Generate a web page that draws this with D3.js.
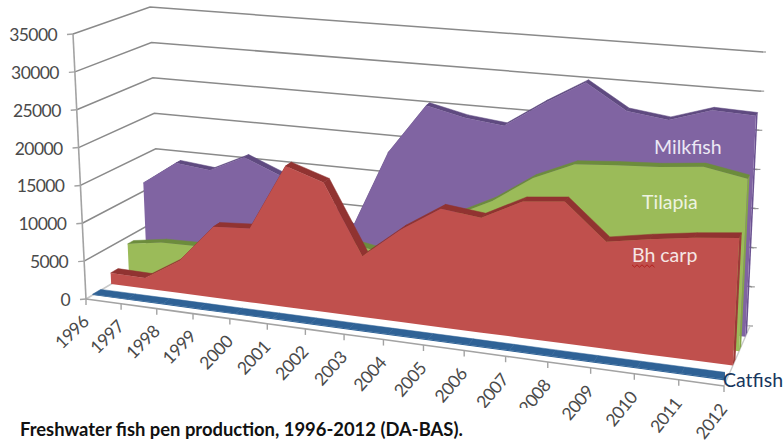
<!DOCTYPE html>
<html>
<head>
<meta charset="utf-8">
<script src="https://cdn.jsdelivr.net/npm/d3@7"></script>
<style>
    html, body { margin: 0; padding: 0; background: #fff; }
    svg { display: block; }
    text { font-family: Lato, "Noto Sans", sans-serif; }
</style>
</head>
<body>
<svg id="chart" width="783" height="446"></svg>
<script>
const years = ["1996","1997","1998","1999","2000","2001","2002","2003","2004","2005","2006","2007","2008","2009","2010","2011","2012"];
const valueTicks = [0, 5000, 10000, 15000, 20000, 25000, 30000, 35000];

// Production per species
const catfish = [110, 110, 120, 120, 120, 130, 130, 120, 120, 130, 130, 130, 120, 120, 130, 130, 130];
const bhCarp = [1500, 1420, 4280, 9420, 9760, 18500, 16880, 7880, 11900, 15140, 14560, 17200, 17750, 13300, 14230, 15000, 15600];
const tilapia = [4060, 4800, 4900, 6000, 7000, 8500, 8000, 7140, 11130, 12800, 15320, 18800, 21090, 21500, 21800, 22350, 21400];
const milkfish = [11150, 14400, 13900, 16170, 14200, 12000, 8000, 18800, 25500, 24340, 23760, 27200, 30300, 27080, 26400, 28100, 27900];

// Box corners on screen: front/back, left/right, floor/top of the value axis
const corners = {
    flb: [86, 299], frb: [724, 386], blb: [160, 255], brb: [750, 326],
    flt: [73, 34], frt: [739, 93], blt: [150, 7], brt: [763, 52]
};

const xScale = d3.scalePoint().domain(years).range([0, 1]);
const yScale = d3.scaleLinear().domain([0, 35000]).range([0, 1]);
const labelAngle = d3.scaleLinear().domain([0, 1]).range([-44, -52]);

const lerp = (a, b, t) => [a[0] + (b[0] - a[0]) * t, a[1] + (b[1] - a[1]) * t];

// Year spacing widens toward the viewer's right
const perspective = 1.145;
const warp = u => u / (u + perspective * (1 - u));

function project(year, value, depth) {
    const t = warp(xScale(year));
    const floor = lerp(lerp(corners.flb, corners.frb, t), lerp(corners.blb, corners.brb, t), depth);
    const top = lerp(lerp(corners.flt, corners.frt, t), lerp(corners.blt, corners.brt, t), depth);
    return lerp(floor, top, yScale(value));
}

const series = [
    { name: "Milkfish", values: milkfish, front: 0.82, back: 0.89, fill: "#8064a2", edge: "#5f4a80", side: "#6a5290" },
    { name: "Tilapia", values: tilapia, front: 0.58, back: 0.66, fill: "#9bbb59", edge: "#6c8c3c", side: "#84a548" },
    { name: "Bh carp", values: bhCarp, front: 0.34, back: 0.44, fill: "#c0504d", edge: "#913331", side: "#9c3b38" },
    { name: "Catfish", values: catfish, front: 0.09, back: 0.20, fill: "#2f6296", edge: "#2f6296", side: "#2f6296" }
];

const svg = d3.select("#chart");
const pathLine = d3.line().x(d => d[0]).y(d => d[1]);
const first = years[0], last = years[years.length - 1];

// The catfish strip stops where its label starts
svg.append("clipPath")
    .attr("id", "catfish-clip")
    .append("rect")
    .attr("x", 0)
    .attr("y", 0)
    .attr("width", 725)
    .attr("height", 446);

// Walls: gridlines run along the side wall and then the back wall
const wall = svg.append("g");
wall.selectAll("path")
    .data(valueTicks)
    .enter()
    .append("path")
    .attr("d", v => pathLine([project(first, v, 0), project(first, v, 1), project(last, v, 1)]))
    .attr("fill", "none")
    .attr("stroke", v => v === 0 ? "#c9c9c9" : "#8a8a8a")
    .attr("stroke-width", 1.5);

// Small ticks on the far right edge of the back wall
wall.selectAll("line.right-tick")
    .data(valueTicks)
    .enter()
    .append("line")
    .attr("class", "right-tick")
    .attr("x1", v => project(last, v, 1)[0] - 1)
    .attr("y1", v => project(last, v, 1)[1])
    .attr("x2", v => project(last, v, 1)[0] + 3)
    .attr("y2", v => project(last, v, 1)[1])
    .attr("stroke", "#9a9a9a")
    .attr("stroke-width", 1.2);

// Right floor edge
wall.append("path")
    .attr("d", pathLine([project(last, 0, 0), project(last, 0, 1)]))
    .attr("stroke", "#c9c9c9")
    .attr("stroke-width", 1.4);

// Area slabs, drawn from the back row to the front row
series.forEach(s => {
    const g = svg.append("g").attr("class", "slab");
    if (s.name === "Catfish") g.attr("clip-path", "url(#catfish-clip)");
    const rows = years.map((y, i) => ({ year: y, value: s.values[i] }));

    // right end of the slab
    const endValue = rows[rows.length - 1].value;
    g.append("path")
        .attr("d", pathLine([
            project(last, 0, s.front), project(last, 0, s.back),
            project(last, endValue, s.back), project(last, endValue, s.front)
        ]) + "Z")
        .attr("fill", s.side);

    // top surface, one quad per year step
    g.selectAll("path.top")
        .data(d3.pairs(rows))
        .enter()
        .append("path")
        .attr("class", "top")
        .attr("d", ([a, b]) => pathLine([
            project(a.year, a.value, s.front), project(b.year, b.value, s.front),
            project(b.year, b.value, s.back), project(a.year, a.value, s.back)
        ]) + "Z")
        .attr("fill", s.edge)
        .attr("stroke", s.edge)
        .attr("stroke-width", 0.5);

    const area = d3.area()
        .x0(d => project(d.year, 0, s.front)[0])
        .y0(d => project(d.year, 0, s.front)[1])
        .x1(d => project(d.year, d.value, s.front)[0])
        .y1(d => project(d.year, d.value, s.front)[1]);

    g.append("path")
        .attr("d", area(rows))
        .attr("fill", s.fill);
});

// Value axis
const yAxis = svg.append("g");
yAxis.append("path")
    .attr("d", pathLine([project(first, 0, 0), project(first, 35000, 0)]))
    .attr("stroke", "#a3a3a3")
    .attr("stroke-width", 1.6);

yAxis.selectAll("line")
    .data(valueTicks)
    .enter()
    .append("line")
    .attr("x1", v => project(first, v, 0)[0] - 6)
    .attr("y1", v => project(first, v, 0)[1] + 0.5)
    .attr("x2", v => project(first, v, 0)[0])
    .attr("y2", v => project(first, v, 0)[1])
    .attr("stroke", "#a3a3a3")
    .attr("stroke-width", 1.4);

yAxis.selectAll("text")
    .data(valueTicks)
    .enter()
    .append("text")
    .attr("x", v => project(first, v, 0)[0] - 16)
    .attr("y", v => project(first, v, 0)[1] + 7)
    .attr("text-anchor", "end")
    .attr("fill", "#4a4a4a")
    .style("font-size", "17.5px")
    .style("letter-spacing", "-0.6px")
    .text(v => v);

// Year axis along the front floor edge
const xAxis = svg.append("g");
xAxis.append("path")
    .attr("d", pathLine(years.map(y => project(y, 0, 0))))
    .attr("fill", "none")
    .attr("stroke", "#a3a3a3")
    .attr("stroke-width", 1.6);

xAxis.selectAll("line")
    .data(years)
    .enter()
    .append("line")
    .attr("x1", y => project(y, 0, 0)[0])
    .attr("y1", y => project(y, 0, 0)[1])
    .attr("x2", y => project(y, 0, 0)[0])
    .attr("y2", y => project(y, 0, 0)[1] + 6)
    .attr("stroke", "#a3a3a3")
    .attr("stroke-width", 1.4);

xAxis.selectAll("text")
    .data(years)
    .enter()
    .append("text")
    .attr("transform", y => {
        const p = project(y, 0, 0);
        return `translate(${p[0] + 4}, ${p[1] + 24}) rotate(${labelAngle(xScale(y))})`;
    })
    .attr("text-anchor", "end")
    .attr("fill", "#4a4a4a")
    .style("font-size", "17.5px")
    .style("letter-spacing", "-0.5px")
    .text(y => y);

// Caption sits on a white box that trims the labels underneath
svg.append("rect")
    .attr("x", 0)
    .attr("y", 408)
    .attr("width", 556)
    .attr("height", 38)
    .attr("fill", "#fff");

svg.append("text")
    .attr("x", 20)
    .attr("y", 436)
    .attr("fill", "#111")
    .style("font-size", "18.4px")
    .style("font-weight", "700")
    .text("Freshwater fish pen production, 1996-2012 (DA-BAS).");

// Series names typed onto the chart
const speciesLabels = ["Milkfish", "Tilapia", "Bh carp", "Catfish"];
const labelColors = ["#ece8f4", "#eef3e0", "#f6e6e4", "#17365d"];
const labelX = [654, 642, 632, 723];
const labelY = [154, 209, 262, 387];

svg.append("g")
    .selectAll("text")
    .data(speciesLabels)
    .enter()
    .append("text")
    .attr("x", (d, i) => labelX[i])
    .attr("y", (d, i) => labelY[i])
    .attr("fill", (d, i) => labelColors[i])
    .style("font-size", "19.5px")
    .text(d => d);

// Spell-check squiggle under "Bh"
const squiggleSteps = d3.range(0, 23, 2.5);
svg.append("path")
    .attr("d", pathLine(squiggleSteps.map((d, i) => [632 + d, 266 + (i % 2 ? 1.2 : -1.2)])))
    .attr("fill", "none")
    .attr("stroke", "#b3201d")
    .attr("stroke-width", 1);
</script>
</body>
</html>
